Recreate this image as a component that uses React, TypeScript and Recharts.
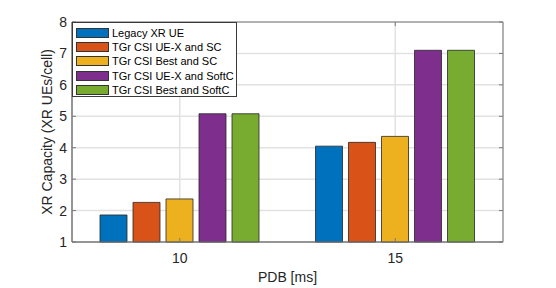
import { BarChart, Bar, XAxis, YAxis, CartesianGrid, Legend, Label, ReferenceArea } from "recharts";

const CATEGORIES = ["10", "15"];
const LEGACY = [1.86, 4.05];
const UEX_SC = [2.26, 4.17];
const BEST_SC = [2.37, 4.36];
const UEX_SOFT = [5.08, 7.1];
const BEST_SOFT = [5.08, 7.1];
const Y_TICKS = [1, 2, 3, 4, 5, 6, 7, 8];

const SERIES = [
  { key: "legacy", name: "Legacy XR UE", color: "#0072BD", values: LEGACY },
  { key: "uexSc", name: "TGr CSI UE-X and SC", color: "#D95319", values: UEX_SC },
  { key: "bestSc", name: "TGr CSI Best and SC", color: "#EDB120", values: BEST_SC },
  { key: "uexSoft", name: "TGr CSI UE-X and SoftC", color: "#7E2F8E", values: UEX_SOFT },
  { key: "bestSoft", name: "TGr CSI Best and SoftC", color: "#77AC30", values: BEST_SOFT },
];

const W = 556;
const H = 288;
const LEFT = 72;
const RIGHT = 503;
const TOP = 22;
const BOTTOM = 242;
const Y_AXIS_W = 50;
const X_AXIS_H = 30;
const FONT = "'Liberation Sans', Arial, Helvetica, sans-serif";
const TEXT = "#262626";
const AXIS = "#7a7a7a";

const data = CATEGORIES.map((c, i) => {
  const row: Record<string, string | number> = { pdb: c };
  SERIES.forEach((s) => (row[s.key] = s.values[i]));
  return row;
});

function YTick(props: any) {
  const { y, payload } = props;
  return (
    <g>
      <line x1={LEFT} x2={LEFT + 4} y1={y} y2={y} stroke={AXIS} />
      <line x1={RIGHT - 4} x2={RIGHT} y1={y} y2={y} stroke={AXIS} />
      <text x={LEFT - 5} y={y} dy="0.36em" textAnchor="end" fontSize={14} fill={TEXT} fontFamily={FONT}>
        {payload.value}
      </text>
    </g>
  );
}

function XTick(props: any) {
  const { x, payload } = props;
  return (
    <g>
      <line x1={x} x2={x} y1={BOTTOM} y2={BOTTOM - 4} stroke={AXIS} />
      <line x1={x} x2={x} y1={TOP} y2={TOP + 4} stroke={AXIS} />
      <text x={x} y={BOTTOM + 21} textAnchor="middle" fontSize={14} fill={TEXT} fontFamily={FONT}>
        {payload.value}
      </text>
    </g>
  );
}

function LegendBox() {
  return (
    <div
      style={{
        background: "#fff",
        border: "1px solid #3a3a3a",
        boxSizing: "border-box",
        width: 165,
        height: 75,
        padding: "3px 0 0 3px",
        fontFamily: FONT,
        fontSize: 11,
        color: "#000",
      }}
    >
      {SERIES.map((s) => (
        <div key={s.key} style={{ display: "flex", alignItems: "center", height: 14.2 }}>
          <div
            style={{
              width: 33,
              height: 10,
              background: s.color,
              border: "1px solid #333",
              boxSizing: "border-box",
              marginRight: 3,
            }}
          />
          <span style={{ whiteSpace: "nowrap" }}>{s.name}</span>
        </div>
      ))}
    </div>
  );
}

export default function App() {
  return (
    <div style={{ position: "absolute", left: 0, top: 0, width: W, height: H, background: "#fff" }}>
      <BarChart
        width={W}
        height={H}
        data={data}
        margin={{ top: TOP, right: W - RIGHT, left: LEFT - Y_AXIS_W, bottom: H - BOTTOM - X_AXIS_H }}
        barSize={27}
        barGap={6}
      >
        <CartesianGrid stroke="#e2e2e2" strokeWidth={1.5} />
        <XAxis
          dataKey="pdb"
          height={X_AXIS_H}
          axisLine={{ stroke: AXIS }}
          tickLine={false}
          tick={<XTick />}
        >
          <Label
            content={(p: any) => {
              const vb = p.viewBox;
              return (
                <text x={vb.x + vb.width / 2} y={282} textAnchor="middle" fontSize={14} fill={TEXT} fontFamily={FONT}>
                  PDB [ms]
                </text>
              );
            }}
          />
        </XAxis>
        <YAxis
          type="number"
          domain={[1, 8]}
          ticks={Y_TICKS}
          width={Y_AXIS_W}
          axisLine={{ stroke: AXIS }}
          tickLine={false}
          tick={<YTick />}
        >
          <Label
            content={(p: any) => {
              const vb = p.viewBox;
              const cy = vb.y + vb.height / 2;
              const cx = 52;
              return (
                <text
                  x={cx}
                  y={cy}
                  transform={`rotate(-90 ${cx} ${cy})`}
                  textAnchor="middle"
                  fontSize={14}
                  fill={TEXT}
                  fontFamily={FONT}
                >
                  XR Capacity (XR UEs/cell)
                </text>
              );
            }}
          />
        </YAxis>
        {SERIES.map((s) => (
          <Bar
            key={s.key}
            dataKey={s.key}
            name={s.name}
            fill={s.color}
            stroke="#262626"
            strokeWidth={0.8}
            isAnimationActive={false}
          />
        ))}
        <ReferenceArea y1={1} y2={8} fill="none" stroke={AXIS} strokeWidth={1} />
        <Legend
          layout="vertical"
          align="center"
          verticalAlign="middle"
          content={() => <LegendBox />}
          wrapperStyle={{ left: LEFT, top: TOP, width: 165, height: 75 }}
        />
      </BarChart>
    </div>
  );
}
